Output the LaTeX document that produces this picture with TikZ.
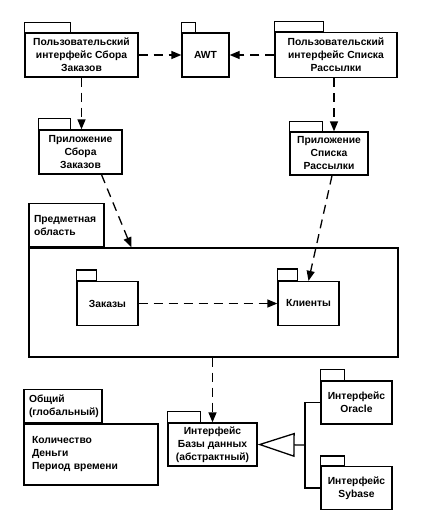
\documentclass[tikz,border=0pt]{standalone}
\usepackage{fontspec}
\setmainfont{Liberation Sans}
\usetikzlibrary{arrows.meta,calc}
\newcommand\pkgtab[3]{\draw[lw] (#1.north west) rectangle ++(#2,-#3);}
\begin{document}
\begin{tikzpicture}[x=1pt,y=-1pt,
  lw/.style={line width=1.3pt},
  every node/.style={font=\fontsize{10.3}{13}\selectfont\bfseries, inner sep=0pt},
  body/.style={draw, lw, align=center},
  tabtext/.style={draw, lw, anchor=south west, align=left, inner xsep=5pt},
  dep/.style={lw, dash pattern=on 9pt off 6pt, -{Triangle[length=10pt,width=8pt]}},
  gen/.style={lw, -{Triangle[open,length=37pt,width=24pt]}}
]
\path[use as bounding box] (0,0) rectangle (420,516);

% top row
\node[body, minimum width=113pt, minimum height=44pt] (uiA) at (81.5,55) {Пользовательский\\интерфейс Сбора\\Заказов};
\pkgtab{uiA}{46}{10}
\node[body, minimum width=47pt, minimum height=44pt] (awt) at (205.5,55) {AWT};
\pkgtab{awt}{14}{10}
\node[body, minimum width=122pt, minimum height=45pt] (uiB) at (336,55) {Пользовательский\\интерфейс Списка\\Рассылки};
\pkgtab{uiB}{49}{10}

% applications
\node[body, minimum width=83pt, minimum height=44pt] (appA) at (80.5,152) {Приложение\\Сбора\\Заказов};
\pkgtab{appA}{32}{11}
\node[body, minimum width=78pt, minimum height=43pt] (appB) at (329,153.5) {Приложение\\Списка\\Рассылки};
\pkgtab{appB}{33}{10}

% domain
\node[body, minimum width=369pt, minimum height=109pt] (domain) at (213.5,302.5) {};
\node[tabtext, minimum width=75pt, minimum height=43pt, text width=65pt] (domtab) at (domain.north west) {Предметная\\область};
\node[body, minimum width=61pt, minimum height=44pt] (orders) at (107.5,303.5) {Заказы};
\pkgtab{orders}{20}{11}
\node[body, minimum width=61pt, minimum height=44pt] (clients) at (308.5,303.5) {Клиенты};
\pkgtab{clients}{20}{12}

% bottom
\node[body, minimum width=134pt, minimum height=61pt, text width=118pt, align=left] (common) at (91,454.5) {Количество\\Деньги\\Период времени};
\node[tabtext, minimum width=78pt, minimum height=33pt, text width=68pt] (comtab) at (common.north west) {Общий\\(глобальный)};

\node[body, minimum width=89pt, minimum height=43pt] (dbi) at (212.5,444.5) {Интерфейс\\Базы данных\\(абстрактный)};
\pkgtab{dbi}{33}{11}
\node[body, minimum width=71pt, minimum height=43pt] (oracle) at (356.5,402.5) {Интерфейс\\Oracle};
\pkgtab{oracle}{24}{11}
\node[body, minimum width=71pt, minimum height=43pt] (sybase) at (356.5,488) {Интерфейс\\Sybase};
\pkgtab{sybase}{24}{10}

% dependencies
\coordinate (bs) at ($(uiB.south)+(-2,0)$);
\coordinate (as) at ($(appA.south)+(21,0)$);
\coordinate (dn) at ($(domain.north west)+(103,0)$);
\coordinate (cs) at ($(appB.south)+(3,0)$);
\draw[dep] (uiA.east) -- (awt.west);
\draw[dep] (uiB.west) -- (awt.east);
\draw[dep] (uiA.south) -- (uiA.south |- appA.north);
\draw[dep] (bs) -- (bs |- appB.north);
\draw[dep] (as) -- (dn);
\draw[dep] (cs) -- (clients.north);
\draw[dep] (orders.east) -- (clients.west);
\draw[dep] (domain.south -| dbi.north) -- (dbi.north);

% generalization
\coordinate (jn) at (305,445);
\draw[gen] (jn) -- (dbi.east);
\draw[lw] (oracle.west) -| (jn) |- (sybase.west);
\end{tikzpicture}
\end{document}
